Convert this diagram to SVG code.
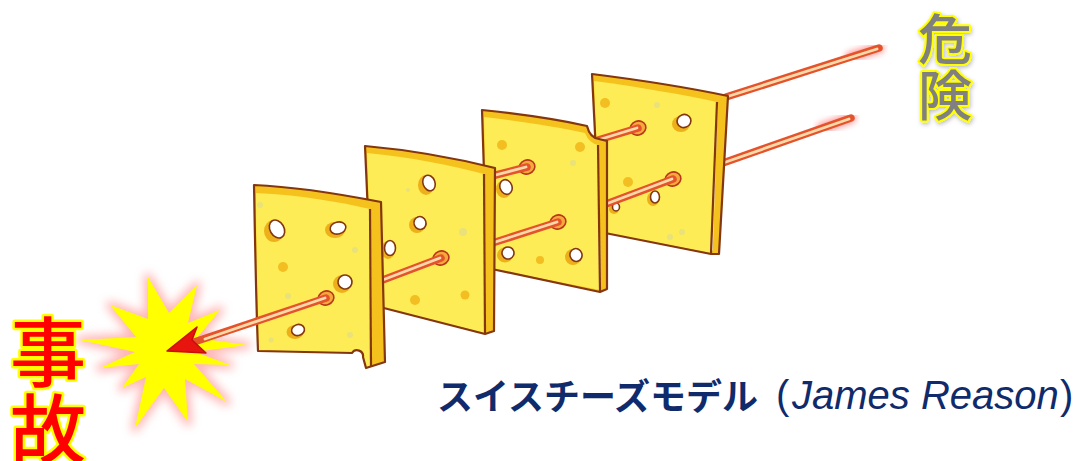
<svg xmlns="http://www.w3.org/2000/svg" xmlns:xlink="http://www.w3.org/1999/xlink" width="1077" height="461" viewBox="0 0 1077 461">
  <defs>
    <style>
      .side { fill: #F5C11C; }
      .face { fill: #FDEC55; }
      .edge { fill: none; stroke: #84360F; stroke-width: 2.2; stroke-linejoin: round; }
      .shine { fill: none; stroke: #FFFBD8; stroke-width: 1.6; stroke-linecap: round; }
      .wall { fill: #EDB01A; }
      .hole { fill: #FFFFFF; stroke: #84360F; stroke-width: 1.6; }
      .rimhole { fill: #F4A93A; stroke: #B8361A; stroke-width: 1.6; }
      .spot { fill: #F2BE22; }
      .pale { fill: #E9E27A; }
      .rod-o { fill: none; stroke: #E4532C; stroke-width: 7.5; stroke-linecap: round; }
      .rod-i { fill: none; stroke: #FFD9A8; stroke-width: 2.8; stroke-linecap: round; }
      .tip { fill: none; stroke: #FF3A3A; stroke-width: 10; stroke-linecap: round; opacity: 0.55; }
      .jp { font-family: "Noto Sans CJK JP", "Noto Sans", sans-serif; }
      .big { font-size: 76px; font-weight: 500; fill: #FF0000; stroke: #FFFF00; stroke-width: 5; paint-order: stroke; stroke-linejoin: round; }
      .risk { font-size: 54px; font-weight: 500; fill: #808080; stroke: #FFFF00; stroke-width: 4; paint-order: stroke; stroke-linejoin: round; }
      .cap { font-size: 36px; font-weight: bold; fill: #102B6B; }
      .latin { font-family: "Liberation Sans", Arial, sans-serif; font-size: 40px; fill: #102B6B; }
    </style>
    <filter id="blur5" x="-30%" y="-30%" width="160%" height="160%">
      <feGaussianBlur stdDeviation="5"/>
    </filter>
    <filter id="blur3" x="-30%" y="-30%" width="160%" height="160%">
      <feGaussianBlur stdDeviation="3"/>
    </filter>
    <filter id="shadow" x="-20%" y="-20%" width="140%" height="140%">
      <feDropShadow dx="1" dy="2" stdDeviation="2" flood-color="#000000" flood-opacity="0.25"/>
    </filter>
    <polygon id="star" points="148,277 169,313 197,285 188,323 220,310 197,338 247,345 195,352 230,365 194,364 227,402 185,379 188,422 164,388 135,428 146,377 122,388 139,364 100,368 135,352 80,340 136,337 110,305 148,319"/>
  </defs>

  <rect width="1077" height="461" fill="#FFFFFF"/>

  <!-- explosion at the accident end -->
  <g id="burst">
    <use xlink:href="#star" fill="#FF9A9A" stroke="#FF9A9A" stroke-width="8" stroke-linejoin="round" filter="url(#blur5)" opacity="0.7"/>
    <use xlink:href="#star" fill="#FFFF00"/>
  </g>

  <!-- hazard rays entering from the right -->
  <g id="rays-in">
    <path class="tip" d="M850,57 L879,48" filter="url(#blur3)"/>
    <path class="tip" d="M822,128 L851,118" filter="url(#blur3)"/>
    <path class="rod-o" d="M726,97 L879,48"/>
    <path class="rod-i" d="M726,97 L877,49"/>
    <path class="rod-o" d="M720,164 L851,118"/>
    <path class="rod-i" d="M720,164 L849,119"/>
  </g>

  <!-- slice 4 (back) -->
  <g id="slice-4">
    <path class="side" d="M592,74 C640,80 690,88 728,96 L719,254 L711,254 L600,232 Z"/>
    <path class="face" d="M594,81 C640,87 684,95 717,102 L711,253 L600,232 Z"/>
    <path class="shine" d="M717,104 L712,250"/>
    <path class="edge" d="M592,74 C640,80 690,88 728,96 L719,254 L711,254 L600,232 Z"/>
    <path class="edge" d="M717,102 L711,253"/>
    <circle class="spot" cx="605" cy="103" r="5"/>
    <circle class="pale" cx="657" cy="105" r="3"/>
    <circle class="spot" cx="628" cy="182" r="5"/>
    <circle class="pale" cx="670" cy="237" r="3"/>
    <circle class="pale" cx="682" cy="232" r="3"/>
    <ellipse class="wall" cx="681" cy="124" rx="9" ry="8"/>
    <ellipse class="hole" cx="684" cy="121" rx="7" ry="6.5" transform="rotate(-20 684 121)"/>
    <ellipse class="wall" cx="653" cy="199" rx="6" ry="7"/>
    <ellipse class="hole" cx="655" cy="197" rx="4.5" ry="6"/>
    <ellipse class="wall" cx="614" cy="209" rx="5" ry="5"/>
    <ellipse class="hole" cx="616" cy="207" rx="3.5" ry="4"/>
    <ellipse class="rimhole" cx="638" cy="128" rx="8" ry="7" transform="rotate(-20 638 128)"/>
    <ellipse class="rimhole" cx="673" cy="179" rx="8" ry="7" transform="rotate(-20 673 179)"/>
  </g>
  <g id="rays-4">
    <path class="rod-o" d="M598,140 L638,128"/>
    <path class="rod-i" d="M598,140 L637,128"/>
    <path class="rod-o" d="M598,207 L673,179"/>
    <path class="rod-i" d="M598,207 L672,179"/>
  </g>

  <!-- slice 3 -->
  <g id="slice-3">
    <path class="side" d="M482,110 C520,114 560,120 587,126 Q590,138 599,139 L607,141 L607,289 L600,292 L487,268 Z"/>
    <path class="face" d="M484,117 C520,121 558,127 585,133 Q589,143 598,145 L600,290 L487,268 Z"/>
    <path class="shine" d="M598,148 L600,286"/>
    <path class="edge" d="M482,110 C520,114 560,120 587,126 Q590,138 599,139 L607,141 L607,289 L600,292 L487,268 Z"/>
    <path class="edge" d="M598,145 L600,291"/>
    <circle class="spot" cx="502" cy="145" r="5"/>
    <circle class="spot" cx="580" cy="147" r="5"/>
    <circle class="pale" cx="573" cy="163" r="3"/>
    <circle class="spot" cx="540" cy="260" r="4"/>
    <ellipse class="wall" cx="504" cy="189" rx="8" ry="9"/>
    <ellipse class="hole" cx="506" cy="187" rx="6" ry="7.5" transform="rotate(-20 506 187)"/>
    <ellipse class="wall" cx="505" cy="255" rx="8" ry="7.5"/>
    <ellipse class="hole" cx="508" cy="253" rx="6" ry="6" transform="rotate(-20 508 253)"/>
    <ellipse class="wall" cx="573" cy="257" rx="8" ry="8"/>
    <ellipse class="hole" cx="576" cy="255" rx="6" ry="6.5" transform="rotate(-20 576 255)"/>
    <ellipse class="rimhole" cx="527" cy="167" rx="8" ry="7" transform="rotate(-20 527 167)"/>
    <ellipse class="rimhole" cx="558" cy="222" rx="8" ry="7" transform="rotate(-20 558 222)"/>
  </g>
  <g id="rays-3">
    <path class="rod-o" d="M488,177 L527,167"/>
    <path class="rod-i" d="M488,177 L526,167"/>
    <path class="rod-o" d="M486,245 L558,222"/>
    <path class="rod-i" d="M486,245 L557,222"/>
  </g>

  <!-- slice 2 -->
  <g id="slice-2">
    <path class="side" d="M365,146 C410,150 455,158 495,168 L494,331 L485,334 L372,305 Z"/>
    <path class="face" d="M367,153 C410,157 450,165 484,174 L485,333 L372,305 Z"/>
    <path class="shine" d="M484,177 L485,329"/>
    <path class="edge" d="M365,146 C410,150 455,158 495,168 L494,331 L485,334 L372,305 Z"/>
    <path class="edge" d="M484,174 L485,333"/>
    <circle class="spot" cx="415" cy="300" r="5"/>
    <circle class="spot" cx="465" cy="295" r="4.5"/>
    <circle class="pale" cx="463" cy="232" r="4"/>
    <circle class="pale" cx="408" cy="190" r="2"/>
    <ellipse class="wall" cx="426" cy="185" rx="8" ry="10"/>
    <ellipse class="hole" cx="429" cy="183" rx="6" ry="8" transform="rotate(-20 429 183)"/>
    <ellipse class="wall" cx="417" cy="225" rx="8" ry="8"/>
    <ellipse class="hole" cx="420" cy="223" rx="6" ry="6.5" transform="rotate(-20 420 223)"/>
    <ellipse class="wall" cx="388" cy="250" rx="7" ry="9"/>
    <ellipse class="hole" cx="390" cy="248" rx="5.5" ry="7.5"/>
    <ellipse class="rimhole" cx="441" cy="258" rx="8" ry="7" transform="rotate(-20 441 258)"/>
  </g>
  <g id="rays-2">
    <path class="rod-o" d="M380,281 L441,258"/>
    <path class="rod-i" d="M380,281 L440,258"/>
  </g>

  <!-- slice 1 (front) -->
  <g id="slice-1">
    <path class="side" d="M254,185 C300,187 345,195 381,202 L385,362 L366,368 L363,357 A6,6 0 0 0 352,353 L258,351 C256,300 255,240 254,185 Z"/>
    <path class="face" d="M256,193 C300,195 340,202 370,209 L371,366 L366,367 L363,357 A6,6 0 0 0 352,353 L259,350 C257,300 256,240 256,193 Z"/>
    <path class="shine" d="M370,212 L371,362"/>
    <path class="edge" d="M254,185 C300,187 345,195 381,202 L385,362 L366,368 L363,357 A6,6 0 0 0 352,353 L258,351 C256,300 255,240 254,185 Z"/>
    <path class="edge" d="M370,209 L371,366"/>
    <circle class="pale" cx="260" cy="205" r="3"/>
    <circle class="spot" cx="283" cy="267" r="5"/>
    <circle class="pale" cx="355" cy="250" r="3"/>
    <circle class="pale" cx="288" cy="296" r="3"/>
    <circle class="pale" cx="350" cy="335" r="3"/>
    <circle class="pale" cx="271" cy="340" r="2.5"/>
    <ellipse class="wall" cx="274" cy="231" rx="10" ry="11"/>
    <ellipse class="hole" cx="277" cy="229" rx="7" ry="9.5" transform="rotate(-30 277 229)"/>
    <ellipse class="wall" cx="335" cy="230" rx="10" ry="8"/>
    <ellipse class="hole" cx="338" cy="228" rx="8" ry="6" transform="rotate(-15 338 228)"/>
    <ellipse class="wall" cx="342" cy="284" rx="9" ry="9"/>
    <ellipse class="hole" cx="345" cy="282" rx="7" ry="7" transform="rotate(-30 345 282)"/>
    <ellipse class="wall" cx="295" cy="332" rx="8.5" ry="7"/>
    <ellipse class="hole" cx="298" cy="330" rx="6.5" ry="5.5" transform="rotate(-15 298 330)"/>
    <ellipse class="rimhole" cx="326" cy="298" rx="8" ry="7" transform="rotate(-20 326 298)"/>
  </g>

  <!-- final ray reaching the accident -->
  <g id="ray-out">
    <path class="rod-o" d="M194,342 L326,298"/>
    <path class="rod-i" d="M205,339 L325,298"/>
    <polygon points="167,351 197,327 192,340 206,353" fill="#E8140E" stroke="#C80E0A" stroke-width="1.5" stroke-linejoin="round"/>
  </g>

  <!-- labels -->
  <g id="label-accident" class="jp big" text-anchor="middle">
    <text x="48" y="381">事</text>
    <text x="48" y="458">故</text>
  </g>
  <g id="label-hazard" class="jp risk" text-anchor="middle" filter="url(#shadow)">
    <text x="945" y="60">危</text>
    <text x="945" y="116">険</text>
  </g>
  <g id="caption">
    <text x="437" y="410" class="jp cap">スイスチーズモデル</text>
    <text x="776" y="409" class="latin">(</text>
    <text x="792" y="409" class="latin" font-style="italic">James Reason</text>
    <text x="1060" y="409" class="latin">)</text>
  </g>
</svg>
